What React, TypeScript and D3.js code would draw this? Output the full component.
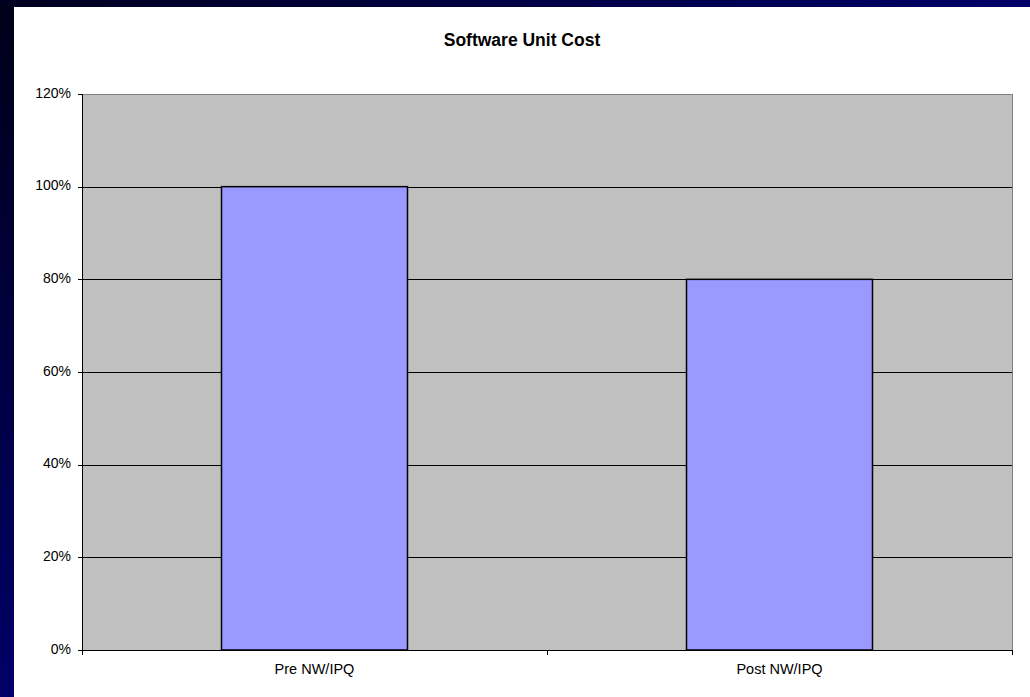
import React from "react";
import * as d3 from "d3";

const categories = ["Pre NW/IPQ", "Post NW/IPQ"];
const values = [1.0, 0.8];
const yTicks = [0, 0.2, 0.4, 0.6, 0.8, 1.0, 1.2];
const title = "Software Unit Cost";

const W = 1030;
const H = 697;
const plot = { left: 82, top: 94, right: 1012, bottom: 650 };

export default function App() {
  const x = d3
    .scaleBand<string>()
    .domain(categories)
    .range([plot.left, plot.right])
    .paddingInner(0.6)
    .paddingOuter(0.3);
  const y = d3.scaleLinear().domain([0, 1.2]).range([plot.bottom, plot.top]);
  const fmt = d3.format(".0%");
  const step = (plot.right - plot.left) / categories.length;
  const catBounds = d3.range(categories.length + 1).map((i) => plot.left + i * step);
  const font = "Arial, 'Liberation Sans', sans-serif";

  return (
    <svg
      width={W}
      height={H}
      style={{ position: "absolute", left: 0, top: 0, display: "block" }}
    >
      <defs>
        <linearGradient id="bgGrad" x1="0" y1="0" x2="0" y2="1">
          <stop offset="0%" stopColor="#000018" />
          <stop offset="100%" stopColor="#000068" />
        </linearGradient>
        <linearGradient id="topGrad" x1="0" y1="0" x2="1" y2="0">
          <stop offset="0%" stopColor="#000020" />
          <stop offset="100%" stopColor="#000068" />
        </linearGradient>
      </defs>
      <rect x={0} y={0} width={W} height={H} fill="url(#bgGrad)" />
      <rect x={0} y={0} width={W} height={7} fill="url(#topGrad)" />
      <rect x={14} y={7} width={W - 14} height={H - 7} fill="#ffffff" />

      <text
        x={522}
        y={41.5}
        textAnchor="middle"
        dominantBaseline="middle"
        fontFamily={font}
        fontWeight="bold"
        fontSize={17.5}
        fill="#000"
      >
        {title}
      </text>

      <rect
        x={plot.left + 0.5}
        y={plot.top + 0.5}
        width={plot.right - plot.left}
        height={plot.bottom - plot.top}
        fill="#c0c0c0"
        stroke="#808080"
        strokeWidth={1}
      />

      {yTicks.slice(1, -1).map((t) => (
        <line
          key={"g" + t}
          x1={plot.left}
          x2={plot.right}
          y1={Math.round(y(t)) + 0.5}
          y2={Math.round(y(t)) + 0.5}
          stroke="#000"
          strokeWidth={1}
        />
      ))}

      {categories.map((c, i) => (
        <rect
          key={c}
          x={x(c)!}
          y={y(values[i])}
          width={x.bandwidth()}
          height={plot.bottom - y(values[i])}
          fill="#9999ff"
          stroke="#000"
          strokeWidth={1.5}
        />
      ))}

      {/* axes */}
      <line x1={plot.left + 0.5} x2={plot.left + 0.5} y1={plot.top} y2={plot.bottom} stroke="#000" />
      <line x1={plot.left} x2={plot.right + 1} y1={plot.bottom + 0.5} y2={plot.bottom + 0.5} stroke="#000" />

      {yTicks.map((t) => (
        <g key={"t" + t}>
          <line
            x1={plot.left - 4}
            x2={plot.left}
            y1={Math.round(y(t)) + 0.5}
            y2={Math.round(y(t)) + 0.5}
            stroke="#000"
          />
          <text
            x={71}
            y={y(t)}
            textAnchor="end"
            dominantBaseline="middle"
            fontFamily={font}
            fontSize={14}
            fill="#000"
          >
            {fmt(t)}
          </text>
        </g>
      ))}

      {catBounds.map((b, i) => (
        <line
          key={"ct" + i}
          x1={Math.round(b) + 0.5}
          x2={Math.round(b) + 0.5}
          y1={plot.bottom}
          y2={plot.bottom + 5}
          stroke="#000"
        />
      ))}

      {categories.map((c) => (
        <text
          key={"l" + c}
          x={x(c)! + x.bandwidth() / 2}
          y={670}
          textAnchor="middle"
          dominantBaseline="middle"
          fontFamily={font}
          fontSize={14.5}
          fill="#000"
        >
          {c}
        </text>
      ))}
    </svg>
  );
}
